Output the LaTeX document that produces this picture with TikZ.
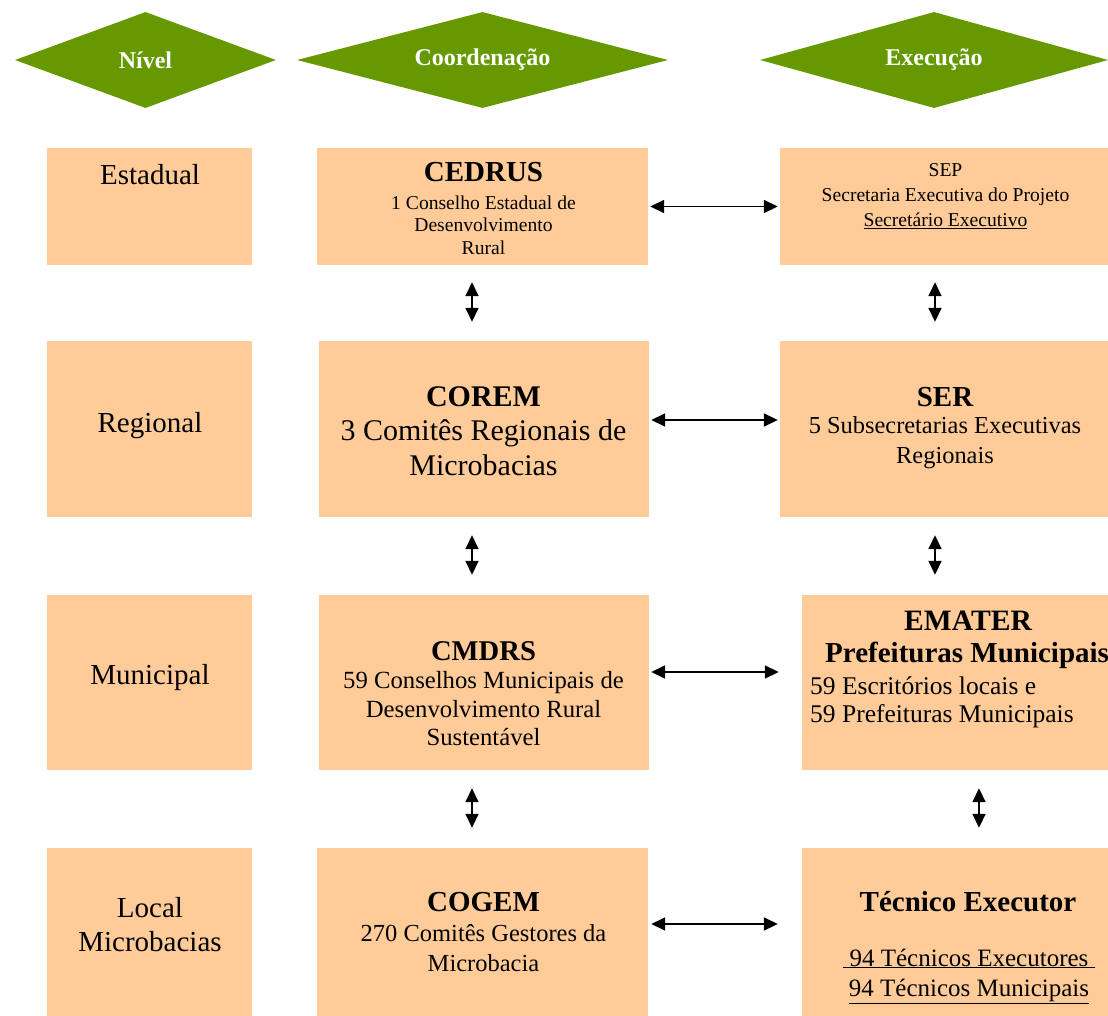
\documentclass[tikz,border=0pt]{standalone}
\usepackage{fontspec}
\setmainfont{Liberation Serif}
\usetikzlibrary{arrows.meta,shapes.geometric,positioning}
\definecolor{peach}{HTML}{FFCC99}
\definecolor{leaf}{HTML}{669900}
\newcommand{\fs}[2]{\fontsize{#1}{#2}\selectfont}
\tikzset{
  cell/.style={rectangle, fill=peach, inner sep=0pt},
  header/.style={diamond, fill=leaf, inner sep=0pt, text=white, font=\fs{24}{28}\bfseries},
  link/.style={{Triangle[length=14pt,width=13pt]}-{Triangle[length=14pt,width=13pt]}, line width=1.7pt},
  txt/.style={inner sep=0pt, align=center},
}

\begin{document}
\begin{tikzpicture}[x=1pt,y=-1pt]
        \useasboundingbox (0,0) rectangle (1108,1016);
        % headers
        \node[header, shape aspect=2.72, minimum width=261pt, minimum height=96pt] (nivel) at (145.5,60) {Nível};
        \node[header, shape aspect=3.86, minimum width=371pt, minimum height=96pt] (coord) at (482.5,60) {Coordenação};
        \node[header, shape aspect=3.62, minimum width=348pt, minimum height=96pt] (exec) at (934,60) {Execução};
        % level column
        \node[cell, minimum width=205pt, minimum height=117pt] (estadual) at (149.5,206.5) {};
        \node[cell, minimum width=205pt, minimum height=176pt] (regional) at (149.5,429) {};
        \node[cell, minimum width=205pt, minimum height=175pt] (municipal) at (149.5,682.5) {};
        \node[cell, minimum width=205pt, minimum height=168pt] (local) at (149.5,932) {};
        \node[txt, font=\fs{29}{34}] (estadual-t) at (150,175) {Estadual};
        \node[txt, font=\fs{29}{34}] (regional-t) at (150,426) {Regional};
        \node[txt, font=\fs{29}{34}] (municipal-t) at (150,678) {Municipal};
        \node[txt, font=\fs{29}{34}] (local-t) at (150,925) {Local\\Microbacias};
        % coordination column
        \node[cell, minimum width=331pt, minimum height=117pt] (cedrus) at (482.5,206.5) {};
        \node[cell, minimum width=330pt, minimum height=176pt] (corem) at (484,429) {};
        \node[cell, minimum width=330pt, minimum height=175pt] (cmdrs) at (484,682.5) {};
        \node[cell, minimum width=331pt, minimum height=168pt] (cogem) at (482.5,932) {};
        \node[txt, font=\fs{29}{33}\bfseries] (cedrus-t) at (483.5,172) {CEDRUS};
        \node[txt, font=\fs{19.6}{22.5}] (cedrus-b) at (483.5,225) {1 Conselho Estadual de\\Desenvolvimento\\Rural};
        \node[txt, font=\fs{30}{35}\bfseries] (corem-t) at (483.5,397) {COREM};
        \node[txt, font=\fs{30}{35}] (corem-b) at (483.5,448) {3 Comitês Regionais de\\Microbacias};
        \node[txt, font=\fs{28.6}{33}\bfseries] (cmdrs-t) at (483.5,651) {CMDRS};
        \node[txt, font=\fs{24.7}{28.5}] (cmdrs-b) at (483.5,709) {59 Conselhos Municipais de\\Desenvolvimento Rural\\Sustentável};
        \node[txt, font=\fs{29}{33}\bfseries] (cogem-t) at (483.5,902) {COGEM};
        \node[txt, font=\fs{24.5}{30}] (cogem-b) at (483.5,948) {270 Comitês Gestores da\\Microbacia};
        % execution column
        \node[cell, minimum width=328pt, minimum height=117pt] (sep) at (944,206.5) {};
        \node[cell, minimum width=328pt, minimum height=176pt] (ser) at (944,429) {};
        \node[cell, minimum width=306pt, minimum height=175pt] (emater) at (955,682.5) {};
        \node[cell, minimum width=306pt, minimum height=168pt] (tec) at (955,932) {};
        \node[txt, font=\fs{19.6}{25}] (sep-t) at (945.5,196) {SEP\\Secretaria Executiva do Projeto\\\underline{Secretário Executivo}};
        \node[txt, font=\fs{29}{33}\bfseries] (ser-t) at (945,397) {SER};
        \node[txt, font=\fs{24.4}{30}] (ser-b) at (945,443) {5 Subsecretarias Executivas\\Regionais};
        \node[txt, font=\fs{29.6}{33}\bfseries] (emater-t) at (968,621) {EMATER};
        \node[txt, font=\fs{29}{33}\bfseries, anchor=west] (emater-p) at (825,655) {Prefeituras Municipais};
        \node[txt, font=\fs{25.5}{28}, anchor=west, align=left] (emater-b) at (810,702) {59 Escritórios locais e\\59 Prefeituras Municipais};
        \node[txt, font=\fs{29}{33}\bfseries] (tec-t) at (968,902) {Técnico Executor};
        \node[txt, font=\fs{25}{30}] (tec-b) at (969,976) {\underline{\ 94 Técnicos Executores\ }\\\underline{94 Técnicos Municipais}};
        % horizontal links
        \draw[link] ([xshift=2pt]cedrus.east) -- ([xshift=-2pt]sep.west);
        \draw[link] ([xshift=2pt,yshift=9pt]corem.east) -- ([xshift=-2pt,yshift=9pt]ser.west);
        \draw[link] ([xshift=2pt,yshift=10.5pt]cmdrs.east) -- ([xshift=-23pt,yshift=10.5pt]emater.west);
        \draw[link] ([xshift=3pt,yshift=8pt]cogem.east) -- ([xshift=-24pt,yshift=8pt]tec.west);
        % vertical links
        \draw[link] ([xshift=-10.5pt,yshift=-17pt]cedrus.south) -- ([xshift=-12pt,yshift=19pt]corem.north);
        \draw[link] ([xshift=-12pt,yshift=-18pt]corem.south) -- ([xshift=-12pt,yshift=20pt]cmdrs.north);
        \draw[link] ([xshift=-12pt,yshift=-18pt]cmdrs.south) -- ([xshift=-10.5pt,yshift=20pt]cogem.north);
        \draw[link] ([xshift=-9pt,yshift=-17pt]sep.south) -- ([xshift=-9pt,yshift=19pt]ser.north);
        \draw[link] ([xshift=-9pt,yshift=-18pt]ser.south) -- ([xshift=-20pt,yshift=20pt]emater.north);
        \draw[link] ([xshift=24pt,yshift=-18pt]emater.south) -- ([xshift=24pt,yshift=20pt]tec.north);
      \end{tikzpicture}
\end{document}
